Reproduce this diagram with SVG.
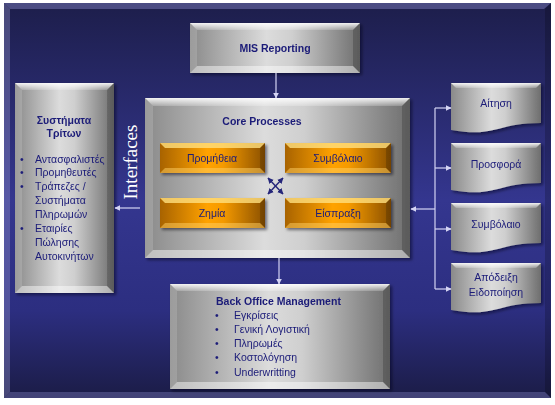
<svg xmlns="http://www.w3.org/2000/svg" width="555" height="405" viewBox="0 0 555 405">
<defs>
  <linearGradient id="bg" x1="0" y1="0" x2="0" y2="1">
    <stop offset="0" stop-color="#1d1e4b"/>
    <stop offset="0.5" stop-color="#34368f"/>
    <stop offset="0.78" stop-color="#2c2e80"/>
    <stop offset="1" stop-color="#1b1c46"/>
  </linearGradient>
  <linearGradient id="gray" x1="0" y1="0" x2="1" y2="0">
    <stop offset="0" stop-color="#8a8a8a"/>
    <stop offset="0.45" stop-color="#dcdcdc"/>
    <stop offset="0.6" stop-color="#cfcfcf"/>
    <stop offset="1" stop-color="#6e6e6e"/>
  </linearGradient>
  <linearGradient id="orange" x1="0" y1="0" x2="1" y2="0">
    <stop offset="0" stop-color="#a86300"/>
    <stop offset="0.45" stop-color="#ffa200"/>
    <stop offset="0.6" stop-color="#f59a00"/>
    <stop offset="1" stop-color="#8a5000"/>
  </linearGradient>
  <linearGradient id="sheen" x1="0" y1="0" x2="0" y2="1">
    <stop offset="0" stop-color="#ffffff" stop-opacity="0.9"/>
    <stop offset="1" stop-color="#ffffff" stop-opacity="0.2"/>
  </linearGradient>
  <filter id="sh" x="-10%" y="-10%" width="125%" height="130%">
    <feDropShadow dx="2" dy="2" stdDeviation="1.5" flood-color="#000010" flood-opacity="0.5"/>
  </filter>
  <marker id="ah" viewBox="0 0 10 10" refX="9" refY="5" markerWidth="5" markerHeight="5" orient="auto">
    <path d="M0,0 L10,5 L0,10 Z" fill="#d4d4f4"/>
  </marker>
  <marker id="ahd" viewBox="0 0 10 10" refX="9" refY="5" markerWidth="4" markerHeight="4" orient="auto-start-reverse">
    <path d="M0,0 L10,5 L0,10 Z" fill="#25267a"/>
  </marker>
  <style>
    .t{font-family:"Liberation Sans",Arial,sans-serif;fill:#1b1b78;font-size:10.5px}
    .b{font-weight:bold}
    .m{text-anchor:middle}
    .hi{fill:url(#sheen)}
    .lf{fill:#ffffff;fill-opacity:0.15}
    .rt{fill:#000000;fill-opacity:0.18}
    .bt{fill:#ffffff;fill-opacity:0.45}
    .con{stroke:#d4d4f4;stroke-width:1.2;fill:none}
  </style>
</defs>

<rect x="0" y="0" width="555" height="405" fill="#ffffff"/>
<g id="background">
  <rect x="4" y="3" width="547" height="395" fill="url(#bg)"/>
  <path d="M4,3 H551 L544,9 H10 Z" fill="#6a6aa8" fill-opacity="0.6"/>
  <path d="M4,3 L10,9 V392 L4,398 Z" fill="#9a9ad0" fill-opacity="0.35"/>
  <path d="M551,3 V398 L545,392 V9 Z" fill="#000000" fill-opacity="0.2"/>
  <path d="M4,398 H551 L545,392 H10 Z" fill="#8080c0" fill-opacity="0.4"/>
</g>

<g id="mis" filter="url(#sh)">
  <rect x="190" y="23" width="170" height="50" fill="url(#gray)"/>
  <path class="hi" d="M190,23 H360 L353,30 H197 Z"/>
  <path class="lf" d="M190,23 L197,30 V66 L190,73 Z"/>
  <path class="rt" d="M360,23 V73 L353,66 V30 Z"/>
  <path class="bt" d="M190,73 H360 L353,66 H197 Z"/>
  <text class="t b m" x="275" y="52">MIS Reporting</text>
</g>

<g id="third-party" filter="url(#sh)">
  <rect x="15" y="83" width="99" height="210" fill="url(#gray)"/>
  <path class="hi" d="M15,83 H114 L107,90 H22 Z"/>
  <path class="lf" d="M15,83 L22,90 V286 L15,293 Z"/>
  <path class="rt" d="M114,83 V293 L107,286 V90 Z"/>
  <path class="bt" d="M15,293 H114 L107,286 H22 Z"/>
  <text class="t b m" x="64" y="124">Συστήματα</text>
  <text class="t b m" x="64" y="137">Τρίτων</text>
  <g class="t">
    <text x="20" y="163">•</text><text x="35" y="163">Αντασφαλιστές</text>
    <text x="20" y="176">•</text><text x="35" y="176">Προμηθευτές</text>
    <text x="20" y="190">•</text><text x="35" y="190">Τράπεζες /</text>
    <text x="35" y="204">Συστήματα</text>
    <text x="35" y="218">Πληρωμών</text>
    <text x="20" y="232">•</text><text x="35" y="232">Εταιρίες</text>
    <text x="35" y="246">Πώλησης</text>
    <text x="35" y="260">Αυτοκινήτων</text>
  </g>
</g>

<g id="interfaces">
  <text x="137" y="162" transform="rotate(-90 137 162)" text-anchor="middle" font-family="'Liberation Serif','Times New Roman',serif" font-size="19" fill="#ffffff">Interfaces</text>
</g>

<g id="core" filter="url(#sh)">
  <rect x="145" y="98" width="265" height="160" fill="url(#gray)"/>
  <path class="hi" d="M145,98 H410 L402,106 H153 Z"/>
  <path class="lf" d="M145,98 L153,106 V250 L145,258 Z"/>
  <path class="rt" d="M410,98 V258 L402,250 V106 Z"/>
  <path class="bt" d="M145,258 H410 L402,250 H153 Z"/>
  <text class="t b m" x="262" y="125" font-size="11">Core Processes</text>
</g>

<g id="promitheia" filter="url(#sh)">
  <rect x="160" y="143" width="105" height="30" fill="url(#orange)"/>
  <path d="M160,143 H265 L260,148 H165 Z" fill="#ffe080" fill-opacity="0.8"/>
  <path class="rt" d="M265,143 V173 L260,168 V148 Z"/>
  <path d="M160,173 H265 L260,168 H165 Z" fill="#ffd060" fill-opacity="0.5"/>
  <text class="t m" x="212" y="162" font-size="11">Προμήθεια</text>
</g>
<g id="symvolaio-core" filter="url(#sh)">
  <rect x="285" y="143" width="106" height="30" fill="url(#orange)"/>
  <path d="M285,143 H391 L386,148 H290 Z" fill="#ffe080" fill-opacity="0.8"/>
  <path class="rt" d="M391,143 V173 L386,168 V148 Z"/>
  <path d="M285,173 H391 L386,168 H290 Z" fill="#ffd060" fill-opacity="0.5"/>
  <text class="t m" x="338" y="162" font-size="11">Συμβόλαιο</text>
</g>
<g id="zimia" filter="url(#sh)">
  <rect x="160" y="198" width="105" height="30" fill="url(#orange)"/>
  <path d="M160,198 H265 L260,203 H165 Z" fill="#ffe080" fill-opacity="0.8"/>
  <path class="rt" d="M265,198 V228 L260,223 V203 Z"/>
  <path d="M160,228 H265 L260,223 H165 Z" fill="#ffd060" fill-opacity="0.5"/>
  <text class="t m" x="212" y="217" font-size="11">Ζημία</text>
</g>
<g id="eispraxi" filter="url(#sh)">
  <rect x="285" y="198" width="106" height="30" fill="url(#orange)"/>
  <path d="M285,198 H391 L386,203 H290 Z" fill="#ffe080" fill-opacity="0.8"/>
  <path class="rt" d="M391,198 V228 L386,223 V203 Z"/>
  <path d="M285,228 H391 L386,223 H290 Z" fill="#ffd060" fill-opacity="0.5"/>
  <text class="t m" x="338" y="217" font-size="11">Είσπραξη</text>
</g>

<g id="back-office" filter="url(#sh)">
  <rect x="170" y="284" width="220" height="105" fill="url(#gray)"/>
  <path class="hi" d="M170,284 H390 L383,291 H177 Z"/>
  <path class="lf" d="M170,284 L177,291 V382 L170,389 Z"/>
  <path class="rt" d="M390,284 V389 L383,382 V291 Z"/>
  <path class="bt" d="M170,389 H390 L383,382 H177 Z"/>
  <text class="t b" x="216" y="305">Back Office Management</text>
  <g class="t">
    <text x="215" y="319">•</text><text x="234" y="319">Εγκρίσεις</text>
    <text x="215" y="333">•</text><text x="234" y="333">Γενική Λογιστική</text>
    <text x="215" y="347">•</text><text x="234" y="347">Πληρωμές</text>
    <text x="215" y="361">•</text><text x="234" y="361">Κοστολόγηση</text>
    <text x="215" y="376">•</text><text x="234" y="376">Underwritting</text>
  </g>
</g>

<g id="doc-aitisi" filter="url(#sh)">
  <path d="M451,83 H541 V123 C496,123 496,138 451,130 Z" fill="url(#gray)"/>
  <path class="hi" d="M451,83 H541 L536,88 H456 Z"/>
  <text class="t m" x="496" y="107" font-size="11">Αίτηση</text>
</g>
<g id="doc-prosfora" filter="url(#sh)">
  <path d="M451,143 H541 V183 C496,183 496,198 451,190 Z" fill="url(#gray)"/>
  <path class="hi" d="M451,143 H541 L536,148 H456 Z"/>
  <text class="t m" x="496" y="168" font-size="11">Προσφορά</text>
</g>
<g id="doc-symvolaio" filter="url(#sh)">
  <path d="M451,203 H541 V243 C496,243 496,258 451,250 Z" fill="url(#gray)"/>
  <path class="hi" d="M451,203 H541 L536,208 H456 Z"/>
  <text class="t m" x="496" y="228" font-size="11">Συμβόλαιο</text>
</g>
<g id="doc-apodeixi" filter="url(#sh)">
  <path d="M451,263 H541 V303 C496,303 496,318 451,310 Z" fill="url(#gray)"/>
  <path class="hi" d="M451,263 H541 L536,268 H456 Z"/>
  <text class="t m" x="496" y="281" font-size="11">Απόδειξη</text>
  <text class="t m" x="496" y="296" font-size="11">Ειδοποίηση</text>
</g>

<g id="connectors">
  <line class="con" x1="276" y1="73" x2="276" y2="98" marker-end="url(#ah)"/>
  <line class="con" x1="279" y1="258" x2="279" y2="284" marker-end="url(#ah)"/>
  <line class="con" x1="140" y1="208" x2="115" y2="208" marker-end="url(#ah)"/>
  <line class="con" x1="435" y1="108" x2="435" y2="289"/>
  <line class="con" x1="435" y1="108" x2="451" y2="108" marker-end="url(#ah)"/>
  <line class="con" x1="435" y1="168" x2="451" y2="168" marker-end="url(#ah)"/>
  <line class="con" x1="435" y1="229" x2="451" y2="229" marker-end="url(#ah)"/>
  <line class="con" x1="435" y1="289" x2="451" y2="289" marker-end="url(#ah)"/>
  <line class="con" x1="435" y1="209" x2="411" y2="209" marker-end="url(#ah)"/>
  <line x1="268" y1="178" x2="283" y2="194" stroke="#25267a" stroke-width="1.5" marker-start="url(#ahd)" marker-end="url(#ahd)"/>
  <line x1="283" y1="178" x2="268" y2="194" stroke="#25267a" stroke-width="1.5" marker-start="url(#ahd)" marker-end="url(#ahd)"/>
</g>
</svg>
